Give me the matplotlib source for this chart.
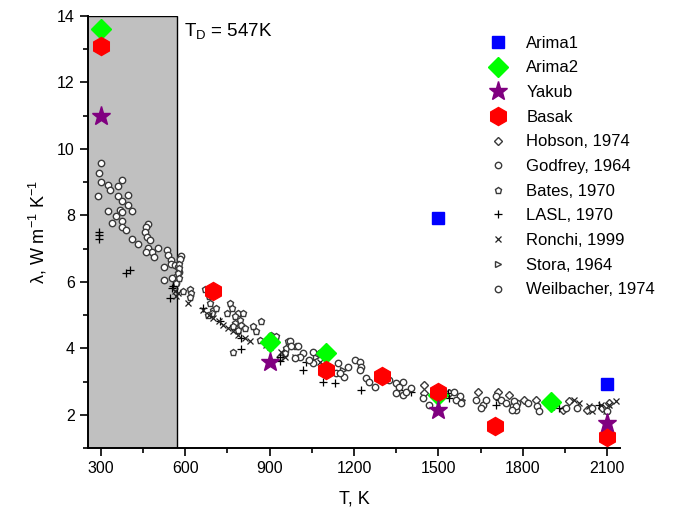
import matplotlib
matplotlib.use("Agg")
import matplotlib.pyplot as plt
from matplotlib.ticker import MultipleLocator

plt.rcParams['font.family'] = ['Liberation Sans', 'DejaVu Sans']
plt.rcParams['mathtext.fontset'] = 'custom'
plt.rcParams['mathtext.rm'] = 'Liberation Sans'
plt.rcParams['mathtext.it'] = 'Liberation Sans:italic'

# --------------------------------------------------
# Data
# --------------------------------------------------
arima1_T = [1500, 2100]
arima1_k = [7.93, 2.93]

arima2_T = [300, 900, 1100, 1500, 1900]
arima2_k = [13.6, 4.2, 3.86, 2.6, 2.38]

yakub_T = [300, 900, 1500, 2100]
yakub_k = [11.0, 3.59, 2.15, 1.76]

basak_T = [300, 700, 1100, 1300, 1500, 1700, 2100]
basak_k = [13.1, 5.71, 3.35, 3.17, 2.69, 1.65, 1.34]

hobson_T = [1450, 1450, 1539, 1639, 1710, 1752, 1805, 1846, 1941, 1964, 2029, 2082, 2106]
hobson_k = [2.90, 2.65, 2.65, 2.70, 2.70, 2.60, 2.45, 2.45, 2.15, 2.40, 2.15, 2.20, 2.35]

godfrey_T = [300, 295, 303, 290, 327, 333, 360, 377, 362, 396, 377, 398, 412, 325, 368,
             377, 353, 339, 377, 377, 391, 469, 460, 457, 463, 477, 412, 433, 469, 481,
             461, 490, 504, 534, 540, 549, 549, 564, 525, 587, 581, 575, 578, 569, 554,
             525, 569]
godfrey_k = [9.57, 9.29, 8.99, 8.59, 8.92, 8.75, 8.89, 9.05, 8.59, 8.60, 8.42, 8.32, 8.14, 8.14, 8.16,
             8.10, 7.98, 7.78, 7.83, 7.64, 7.56, 7.74, 7.64, 7.51, 7.36, 7.26, 7.29, 7.14, 7.01, 6.91,
             6.91, 6.74, 7.01, 6.96, 6.81, 6.66, 6.54, 6.51, 6.44, 6.78, 6.68, 6.46, 6.31, 6.16, 6.11,
             6.06, 5.96]

bates_T = [578, 578, 575, 578, 569, 619, 620, 617, 593, 670, 685, 688, 699, 711, 694,
           682, 761, 765, 749, 788, 806, 776, 794, 776, 800, 770, 788, 812, 841, 871,
           853, 865, 906, 924, 965, 995, 960, 954, 770, 936]
bates_k = [6.54, 6.41, 6.26, 6.11, 5.96, 5.78, 5.66, 5.54, 5.71, 5.78, 5.58, 5.36, 5.16, 5.21, 5.06,
           5.01, 5.36, 5.21, 5.06, 5.06, 5.06, 4.96, 4.86, 4.76, 4.71, 4.66, 4.56, 4.61, 4.66, 4.81,
           4.51, 4.26, 4.41, 4.36, 4.21, 4.06, 4.01, 3.86, 3.90, 3.75]

lasl_T = [295, 295, 295, 389, 404, 557, 546, 552, 664, 723, 800, 800, 936, 936, 1019,
          1090, 1131, 1226, 1361, 1403, 1030, 1533, 1539, 1704, 1716, 1929, 1912, 2070]
lasl_k = [7.51, 7.41, 7.28, 6.28, 6.36, 5.87, 5.51, 5.81, 5.21, 4.81, 4.31, 3.98, 3.61, 3.75, 3.35,
          3.00, 2.95, 2.75, 2.75, 2.70, 3.60, 2.65, 2.50, 2.30, 2.45, 2.20, 2.25, 2.30]

ronchi_T = [575, 563, 569, 611, 664, 685, 699, 721, 735, 752, 770, 788, 812, 830, 888,
            900, 942, 954, 989, 1078, 1982, 1999, 2035, 2047, 2076, 2106, 2130, 2094]
ronchi_k = [5.66, 5.71, 5.58, 5.36, 5.16, 5.01, 4.91, 4.81, 4.71, 4.61, 4.51, 4.41, 4.31, 4.21, 4.11,
            4.04, 3.90, 3.75, 3.75, 3.60, 2.45, 2.35, 2.25, 2.10, 2.30, 2.30, 2.40, 2.10]

stora_T = [1066, 1161, 1585]
stora_k = [3.75, 3.35, 2.45]

weilbacher_T = [971, 977, 1001, 1019, 1007, 989, 1054, 1078, 1054, 1042, 1143, 1178, 1166, 1137,
                1150, 1202, 1220, 1226, 1220, 1243, 1255, 1273, 1326, 1350, 1373, 1361, 1350, 1373,
                1385, 1403, 1444, 1468, 1557, 1575, 1562, 1580, 1633, 1657, 1651, 1669, 1704, 1722,
                1740, 1764, 1775, 1781, 1770, 1775, 1763, 1817, 1852, 1858, 1953, 1994, 2046, 2100]
weilbacher_k = [4.21, 4.06, 4.06, 3.86, 3.75, 3.70, 3.90, 3.86, 3.55, 3.65, 3.55, 3.45, 3.15, 3.25,
                3.25, 3.65, 3.60, 3.45, 3.35, 3.10, 3.00, 2.85, 3.05, 2.95, 3.00, 2.85, 2.65, 2.60,
                2.70, 2.80, 2.50, 2.30, 2.70, 2.55, 2.45, 2.35, 2.45, 2.30, 2.20, 2.45, 2.55, 2.45,
                2.35, 2.25, 2.15, 2.35, 2.40, 2.25, 2.15, 2.35, 2.25, 2.10, 2.20, 2.20, 2.20, 2.10]

T_debye = 547
shade_end = 572

# --------------------------------------------------
# Plot
# --------------------------------------------------
fig = plt.figure(figsize=(6.82, 5.23), dpi=100)
ax = fig.add_axes([0.129, 0.1434, 0.78, 0.826])

ax.axvspan(250, shade_end, ymin=0, ymax=1, facecolor='#c0c0c0', edgecolor='black', lw=1, zorder=0)

small = dict(ls='none', mfc='white', mec='#3a3a3a', mew=1.0, ms=4.6, zorder=3)
ax.plot(hobson_T, hobson_k, marker='D', label='Hobson, 1974', **{**small, 'ms': 4})
ax.plot(godfrey_T, godfrey_k, marker='o', label='Godfrey, 1964', **small)
ax.plot(bates_T, bates_k, marker='p', label='Bates, 1970', **small)
ax.plot(lasl_T, lasl_k, ls='none', marker='+', color='black', ms=6, mew=0.9,
        label='LASL, 1970', zorder=3)
ax.plot(ronchi_T, ronchi_k, ls='none', marker='x', color='#222222', ms=5, mew=0.9,
        label='Ronchi, 1999', zorder=3)
ax.plot(stora_T, stora_k, marker='>', label='Stora, 1964', **small)
ax.plot(weilbacher_T, weilbacher_k, marker='o', label='Weilbacher, 1974', **small)

ax.plot(arima1_T, arima1_k, ls='none', marker='s', color='#0000ff', ms=8.5,
        label='Arima1', zorder=5)
ax.plot(arima2_T, arima2_k, ls='none', marker='D', color='#00ff00', ms=10,
        label='Arima2', zorder=5)
ax.plot(yakub_T, yakub_k, ls='none', marker='*', color='#800080', ms=14,
        label='Yakub', zorder=7)
ax.plot(basak_T, basak_k, ls='none', marker='h', color='#ff0000', ms=13,
        label='Basak', zorder=6)

ax.set_xlim(255, 2145)
ax.set_ylim(1, 14)
ax.xaxis.set_major_locator(MultipleLocator(300))
ax.xaxis.set_minor_locator(MultipleLocator(150))
ax.yaxis.set_major_locator(MultipleLocator(2))
ax.yaxis.set_minor_locator(MultipleLocator(1))
ax.tick_params(which='both', direction='out', width=1.2, labelsize=11.5, colors='black')
ax.tick_params(which='major', length=6)
ax.tick_params(which='minor', length=3.5)
for s in ['top', 'right']:
    ax.spines[s].set_visible(False)
for s in ['left', 'bottom']:
    ax.spines[s].set_linewidth(1.4)

ax.set_xlabel('T, K', fontsize=13, labelpad=10)
ax.set_ylabel(r'λ, W m$^{-1}$ K$^{-1}$', fontsize=13, labelpad=6)

ax.text(595, 13.55, r'T$_\mathregular{D}$ = %dK' % T_debye, fontsize=13.5, va='center')

order = ['Arima1', 'Arima2', 'Yakub', 'Basak', 'Hobson, 1974', 'Godfrey, 1964', 'Bates, 1970',
         'LASL, 1970', 'Ronchi, 1999', 'Stora, 1964', 'Weilbacher, 1974']
handles, labels = ax.get_legend_handles_labels()
hmap = dict(zip(labels, handles))
fig.legend([hmap[l] for l in order], order, loc='upper left',
           bbox_to_anchor=(478 / 682, 1 - 29 / 523), frameon=False, fontsize=12,
           handletextpad=0.9, labelspacing=0.58, handlelength=1.6, borderaxespad=0)

fig.savefig('out.png', dpi=100)
